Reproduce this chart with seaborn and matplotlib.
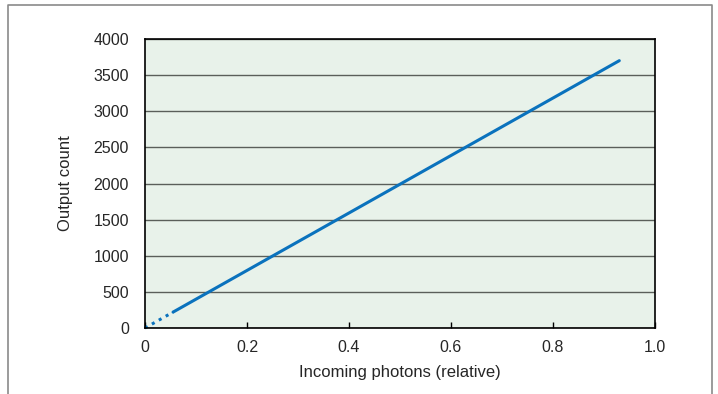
import matplotlib
matplotlib.use("Agg")
import matplotlib.pyplot as plt
import seaborn as sns
import pandas as pd
from matplotlib.lines import Line2D

sns.set_theme(style="white")
plt.rcParams['font.family'] = ['Liberation Sans', 'DejaVu Sans']

# data
solid_x = [0.055, 0.93]
solid_y = [220, 3700]
dotted_x = [0.0, 0.055]
dotted_y = [0, 220]
x_ticks = [0, 0.2, 0.4, 0.6, 0.8, 1.0]
x_labels = ["0", "0.2", "0.4", "0.6", "0.8", "1.0"]
y_ticks = [0, 500, 1000, 1500, 2000, 2500, 3000, 3500, 4000]

fig = plt.figure(figsize=(7.18, 3.94), dpi=100)
ax = fig.add_axes([145/718, 1-328/394, 510/718, 289/394])
ax.set_facecolor("#e8f2ea")

df_solid = pd.DataFrame({"x": solid_x, "y": solid_y})
df_dot = pd.DataFrame({"x": dotted_x, "y": dotted_y})
sns.lineplot(data=df_solid, x="x", y="y", ax=ax, color="#0a72bd", lw=2.2)
sns.lineplot(data=df_dot, x="x", y="y", ax=ax, color="#0a72bd", lw=2.2,
             linestyle=(0, (1, 1.6)), dash_capstyle="butt", clip_on=False)

ax.set_xlim(0, 1.0)
ax.set_ylim(0, 4000)
ax.set_xticks(x_ticks)
ax.set_xticklabels(x_labels)
ax.set_yticks(y_ticks)
ax.yaxis.grid(True, color="#5a5f5a", lw=1.0)
ax.set_axisbelow(True)
for s in ax.spines.values():
    s.set_color("black")
    s.set_linewidth(1.2)
ax.tick_params(axis="x", direction="in", length=4, width=1, color="black",
               labelsize=11.5, pad=9, bottom=True)
ax.tick_params(axis="y", length=0, labelsize=11.5, pad=11.5)
ax.set_xlabel("Incoming photons (relative)", fontsize=12, labelpad=7)
ax.set_ylabel("Output count", fontsize=12, labelpad=15)

# outer frame
fig.add_artist(Line2D([8/718, 8/718, 712/718, 712/718],
                      [0, 1-4.5/394, 1-4.5/394, 0],
                      transform=fig.transFigure, color="#8a8a8a", lw=1.2))

fig.savefig("out.png", dpi=100)
